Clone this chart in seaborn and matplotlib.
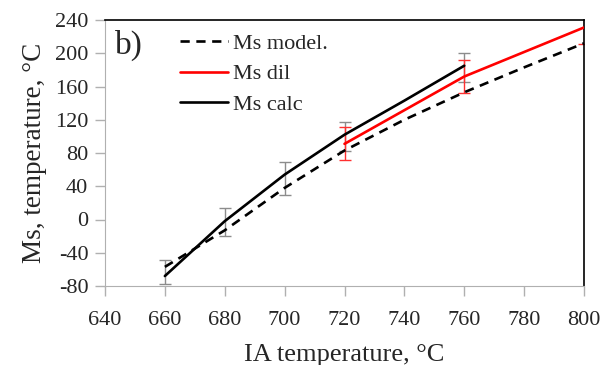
import matplotlib
matplotlib.use("Agg")
import matplotlib.pyplot as plt
import numpy as np
import pandas as pd
import seaborn as sns

sns.set_style("ticks")
plt.rcParams['font.family'] = ['Liberation Serif', 'DejaVu Serif']
plt.rcParams['axes.unicode_minus'] = False

# data
ia_model = [660, 680, 700, 720, 740, 760, 780, 800]
ms_model = [-57, -13, 38, 83, 120, 153, 183, 212]

ia_dil = [720, 760, 800]
ms_dil = [91, 172, 231]
err_dil = [20, 20, 20]

ia_calc = [660, 680, 700, 720, 740, 760]
ms_calc = [-68, -2, 54, 102, 143, 185]
err_calc_x = [660, 680, 700, 720, 760]
err_calc_y = [-63, -3, 49, 100, 183]
err_calc_e = [14, 17, 20, 17, 17]

df_model = pd.DataFrame({'IA': ia_model, 'Ms': ms_model})
df_dil = pd.DataFrame({'IA': ia_dil, 'Ms': ms_dil})
df_calc = pd.DataFrame({'IA': ia_calc, 'Ms': ms_calc})

fig = plt.figure(figsize=[6.03, 3.65], dpi=100)
ax = fig.add_axes([105/603, 1-286/365, (584-105)/603, (286-20)/365])

# error bars first so the lines sit on top
ax.errorbar(err_calc_x, err_calc_y, yerr=err_calc_e, fmt='none',
            ecolor='#8c8c8c', elinewidth=1, capsize=4, capthick=1, zorder=2)
ax.errorbar(ia_dil, ms_dil, yerr=err_dil, fmt='none',
            ecolor='#ff3030', elinewidth=1, capsize=4, capthick=1, zorder=2)

sns.lineplot(data=df_model, x='IA', y='Ms', ax=ax, color='black',
             linestyle=(0, (3.5, 2.5)), linewidth=1.9, label='Ms model.', zorder=3)
sns.lineplot(data=df_dil, x='IA', y='Ms', ax=ax, color='#ff0000',
             linewidth=1.9, label='Ms dil', zorder=4)
sns.lineplot(data=df_calc, x='IA', y='Ms', ax=ax, color='black',
             linewidth=1.9, label='Ms calc', zorder=5)

ax.set_xlim(640, 800)
ax.set_ylim(-80, 240)
ax.set_xticks(np.arange(640, 801, 20))
ax.set_yticks(np.arange(-80, 241, 40))
ax.tick_params(axis='both', labelsize=16, color='#b0b0b0', length=7, width=1)
ax.tick_params(axis='x', pad=11)
ax.tick_params(axis='y', pad=5)

ax.spines['left'].set_color('#b0b0b0')
ax.spines['bottom'].set_color('#b0b0b0')
ax.spines['top'].set_visible(True)
ax.spines['right'].set_visible(True)
ax.spines['top'].set_color('black')
ax.spines['right'].set_color('black')
ax.spines['top'].set_linewidth(1.2)
ax.spines['right'].set_linewidth(1.2)

ax.set_xlabel('IA temperature, °C', fontsize=19, labelpad=10)
ax.set_ylabel('Ms, temperature, °C', fontsize=19.5, labelpad=6)

ax.text(0.02, 0.965, 'b)', transform=ax.transAxes, fontsize=24, va='top', ha='left')

ax.legend(loc='upper left', bbox_to_anchor=(0.115, 1.025), frameon=False,
          fontsize=16, handlelength=2.15, handletextpad=0.25, labelspacing=0.45)

fig.savefig('out.png', dpi=100)
